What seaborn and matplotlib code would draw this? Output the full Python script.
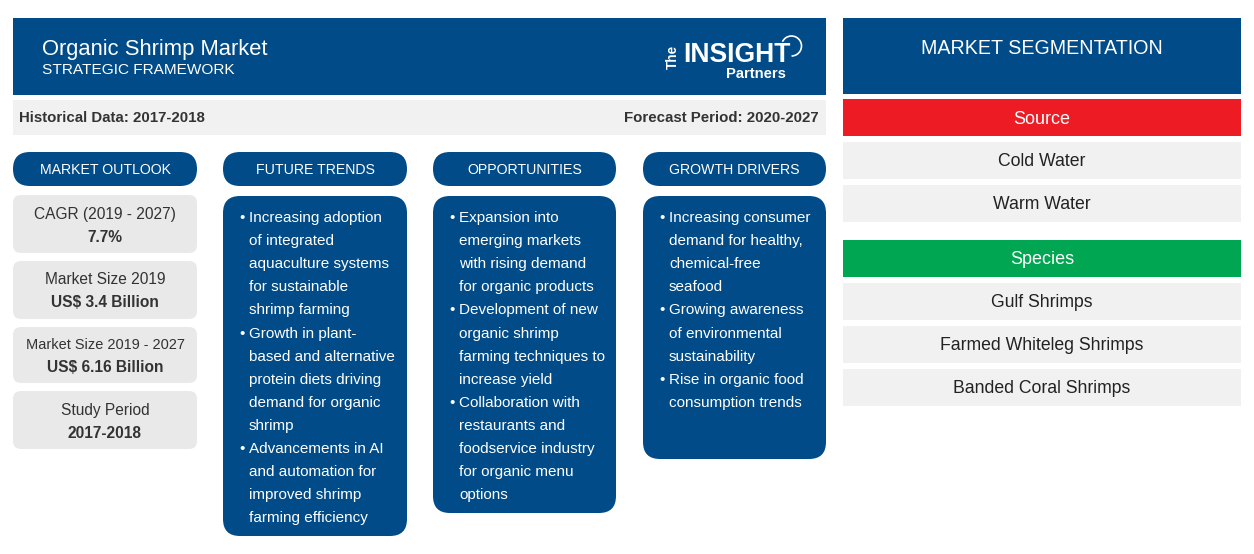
import matplotlib
matplotlib.use("Agg")
import matplotlib.pyplot as plt
import seaborn as sns
from matplotlib.patches import FancyBboxPatch, Rectangle, Arc

# text content
title = "Organic Shrimp Market"
subtitle = "STRATEGIC FRAMEWORK"
historical = "Historical Data: 2017-2018"
forecast = "Forecast Period: 2020-2027"
column_heads = ["MARKET OUTLOOK", "FUTURE TRENDS", "OPPORTUNITIES", "GROWTH DRIVERS"]
stat_labels = ["CAGR (2019 - 2027)", "Market Size 2019", "Market Size 2019 - 2027", "Study Period"]
stat_values = ["7.7%", "US$ 3.4 Billion", "US$ 6.16 Billion", "2017-2018"]

future_trends = [
    ["Increasing adoption", "of integrated", "aquaculture systems", "for sustainable", "shrimp farming"],
    ["Growth in plant-", "based and alternative", "protein diets driving", "demand for organic", "shrimp"],
    ["Advancements in AI", "and automation for", "improved shrimp", "farming efficiency"],
]
opportunities = [
    ["Expansion into", "emerging markets", "with rising demand", "for organic products"],
    ["Development of new", "organic shrimp", "farming techniques to", "increase yield"],
    ["Collaboration with", "restaurants and", "foodservice industry", "for organic menu", "options"],
]
growth_drivers = [
    ["Increasing consumer", "demand for healthy,", "chemical-free", "seafood"],
    ["Growing awareness", "of environmental", "sustainability"],
    ["Rise in organic food", "consumption trends"],
]

segment_head = "MARKET SEGMENTATION"
source_head = "Source"
source_items = ["Cold Water", "Warm Water"]
species_head = "Species"
species_items = ["Gulf Shrimps", "Farmed Whiteleg Shrimps", "Banded Coral Shrimps"]

BLUE = "#004b88"
GREY = "#e9e9e9"
STRIP = "#f1f1f1"
RED = "#ed1c24"
GREEN = "#00a651"
DARK = "#333333"

sns.set_theme(style="white")
plt.rcParams["font.family"] = ["Liberation Sans", "DejaVu Sans"]

fig = plt.figure(figsize=(12.54, 5.54), dpi=100, facecolor="white")
ax = fig.add_axes([0, 0, 1, 1])
ax.set_xlim(0, 1254)
ax.set_ylim(554, 0)
ax.axis("off")


def px(size):
    return size * 0.72


def rect(x0, x1, y0, y1, color):
    ax.add_patch(Rectangle((x0, y0), x1 - x0, y1 - y0, fc=color, ec="none"))


def rounded(x0, x1, y0, y1, r, color):
    ax.add_patch(FancyBboxPatch((x0 + r, y0 + r), x1 - x0 - 2 * r, y1 - y0 - 2 * r,
                                boxstyle=f"round,pad={r},rounding_size={r}",
                                fc=color, ec="none"))


def label(x, y, s, size, color="white", ha="center", weight="normal"):
    ax.text(x, y, s, fontsize=px(size), color=color, ha=ha, va="center", fontweight=weight)


# main header
rect(13, 826, 18, 95, BLUE)
label(42, 49.5, title, 22, ha="left")
label(42, 70, subtitle, 15.4, ha="left")

# logo
label(737, 55.5, "INSIGHT", 26.5, weight="bold")
label(756, 74, "Partners", 14.8, weight="bold")
ax.text(673, 57, "The", fontsize=px(13.5), color="white", rotation=90, ha="center", va="center",
        fontweight="bold")
ax.add_patch(Arc((791.5, 46), 20, 20, theta1=205, theta2=450, color="white", lw=1.2))

# strip under header
rect(13, 826, 100, 135, STRIP)
label(19, 118, historical, 15, color=DARK, ha="left", weight="bold")
label(819, 118, forecast, 15, color=DARK, ha="right", weight="bold")

# column pills
columns = [(13, 197), (223, 407), (433, 616), (643, 826)]
for (x0, x1), head in zip(columns, column_heads):
    rounded(x0, x1, 152, 186, 17, BLUE)
    label((x0 + x1) / 2, 170.5, head, 14.1)

# outlook cards
cards = [(195, 253), (261, 319), (327, 383), (391, 449)]
label_sizes = [15.5, 15.5, 14.5, 15.5]
label_offsets = [19, 19, 18, 19]
value_offsets = [42, 41.5, 40, 42]
for (y0, y1), name, value, size, dy1, dy2 in zip(cards, stat_labels, stat_values, label_sizes,
                                                 label_offsets, value_offsets):
    rounded(13, 197, y0, y1, 8, GREY)
    label(105, y0 + dy1, name, size, color=DARK)
    label(105, y0 + dy2, value, 15.5, color=DARK, weight="bold")

# bullet columns
bullet_cols = [future_trends, opportunities, growth_drivers]
bullet_bottoms = [536, 513, 459]
for (x0, x1), bullets, bottom in zip(columns[1:], bullet_cols, bullet_bottoms):
    rounded(x0, x1, 196, bottom, 17, BLUE)
    y = 218
    for lines in bullets:
        label(x0 + 19.5, y, "•", 15)
        for line in lines:
            label(x0 + 26, y, line, 15.3, ha="left")
            y += 23.1

# segmentation side
rect(843, 1241, 18, 94, BLUE)
label(1042, 48, segment_head, 19.7)


def segment(head, color, items, y):
    rect(843, 1241, y, y + 37, color)
    label(1042, y + 20, head, 18)
    y += 43
    for item in items:
        rect(843, 1241, y, y + 37, STRIP)
        label(1042, y + 19.5, item, 17.6, color="#222222")
        y += 43


segment(source_head, RED, source_items, 99)
segment(species_head, GREEN, species_items, 240)

fig.savefig("out.png", dpi=100)
